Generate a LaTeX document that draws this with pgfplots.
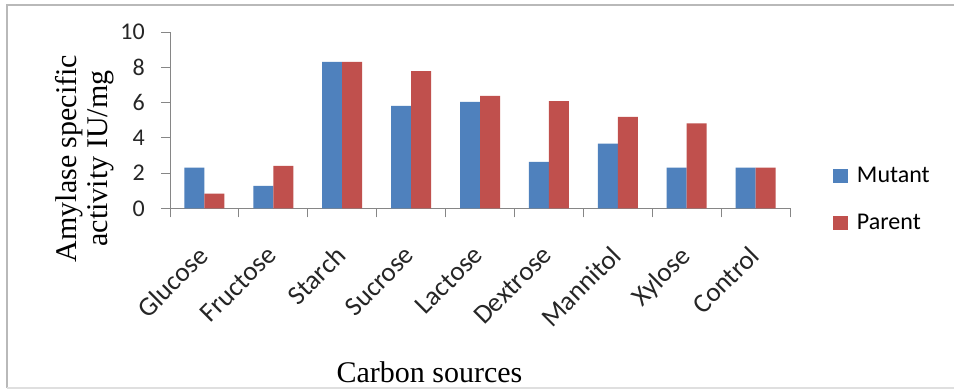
\documentclass[border=0pt]{standalone}
\usepackage{pgfplots}
\pgfplotsset{compat=1.18}
\usepackage{fontspec}
\setmainfont{Liberation Serif}
\newfontfamily\carlito{Carlito}
\definecolor{mutant}{HTML}{4F81BD}
\definecolor{parent}{HTML}{C0504D}
\definecolor{axisgray}{HTML}{868686}

\begin{document}
\begin{tikzpicture}[x=1pt,y=1pt]
\useasboundingbox (0,0) rectangle (954,390);
\fill[white] (0,0) rectangle (954,390);
% chart area border
\draw[gray!55, line width=1.5pt] (960,385) -- (7,385) -- (7,2);
\draw[gray!25, line width=1.5pt] (7,2) -- (960,2);
\begin{axis}[
  at={(170pt,181.7pt)}, anchor=south west, scale only axis,
  width=620pt, height=176.3pt,
  xmin=-0.5, xmax=8.5, ymin=0, ymax=10,
  axis x line*=bottom, axis y line*=left,
  axis line style={axisgray, line width=0.9pt, -},
  ytick={0,2,...,10},
  xtick={-0.5,0.5,...,8.5}, xticklabels={},
  tick align=outside, major tick length=9pt,
  tick style={axisgray, line width=0.9pt},
  /pgf/number format/assume math mode=true,
  tick label style={font=\carlito\fontsize{24}{24}\selectfont, text=black!85},
  yticklabel style={inner sep=0pt, xshift=-16pt},
  extra x ticks={0,...,8},
  extra x tick labels={Glucose,Fructose,Starch,Sucrose,Lactose,Dextrose,Mannitol,Xylose,Control},
  extra x tick style={major tick length=0pt,
    tick label style={inner sep=0pt, xshift=-8pt, yshift=-36pt, rotate=45, anchor=north east,
      font=\carlito\fontsize{27}{27}\selectfont}},
  ybar=0pt, bar width=20pt,
  legend style={at={(1.069,0.05)}, anchor=west, draw=none, fill=none, inner sep=0pt,
    font=\carlito\fontsize{24}{24}\selectfont, row sep=26pt,
    /tikz/every odd column/.append style={column sep=7pt}},
  legend cell align=left,
  legend image code/.code={\fill[#1] (0pt,-7pt) rectangle (15pt,7pt);},
]
\addplot[fill=mutant, draw=none] coordinates {
  (0,2.30) (1,1.27) (2,8.31) (3,5.81) (4,6.04) (5,2.63) (6,3.67) (7,2.31) (8,2.31)};
\addplot[fill=parent, draw=none] coordinates {
  (0,0.83) (1,2.40) (2,8.31) (3,7.78) (4,6.38) (5,6.08) (6,5.19) (7,4.81) (8,2.31)};
\legend{Mutant,Parent}
\end{axis}
\node[rotate=90, align=center, font=\fontsize{30}{31}\selectfont] at (85,231.5)
  {Amylase specific\\activity IU/mg};
\node[anchor=base, font=\fontsize{30}{30}\selectfont] at (429.5,7) {Carbon sources};
\end{tikzpicture}
\end{document}
